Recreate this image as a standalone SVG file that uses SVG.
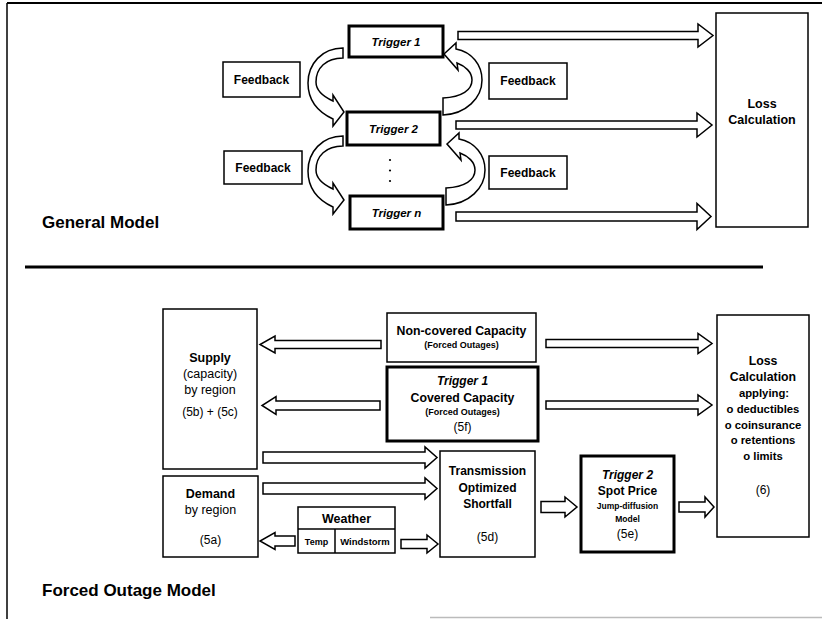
<svg xmlns="http://www.w3.org/2000/svg" width="822" height="619" viewBox="0 0 822 619">
<style>
.box{fill:#fff;stroke:#000;stroke-width:1.5}
.thick{fill:#fff;stroke:#000;stroke-width:3}
.arr{fill:#fff;stroke:#000;stroke-width:1.5;stroke-linejoin:miter}
.ln{stroke:#000;fill:none}
text{font-family:"Liberation Sans",Arial,sans-serif;text-anchor:middle;fill:#000}
.b{font-weight:bold}
.bi{font-weight:bold;font-style:italic}
.h{font-weight:bold;font-size:17px;text-anchor:start}
</style>
<defs>
<path id="cl" d="M343,48 C322,48 308,64 308,83 C308,100 318,112 333,119 L333,126 L344,112 L333,95 L333,101 C322,96 316,90 316,82 C316,68 326,58 343,58 Z"/>
<path id="cr" d="M456,49 C472,52 482,65 482,80 C482,98 466,114 443,115 L443,98 C462,97 472,90 472,80 C472,72 465,66 457,63 L458,70 L444,54 L456,43 Z"/>
</defs>
<rect width="822" height="619" fill="#fff"/>
<g id="frame">
<line class="ln" x1="7" y1="3" x2="822" y2="3" stroke-width="2"/>
<line class="ln" x1="7" y1="3" x2="7" y2="619" stroke-width="1.5"/>
<line class="ln" x1="25" y1="267" x2="763" y2="267" stroke-width="3"/>
<line x1="430" y1="617.5" x2="822" y2="617.5" stroke="#bbb" stroke-width="1.5"/>
</g>
<text class="h" x="42" y="228">General Model</text>
<text class="h" x="42" y="596">Forced Outage Model</text>

<g id="connectors">
<use href="#cl" class="arr"/>
<use href="#cl" class="arr" transform="translate(0,88)"/>
<use href="#cr" class="arr"/>
<use href="#cr" class="arr" transform="translate(3,90)"/>
<polygon class="arr" points="458,31.5 698,31.5 698,24 713,35.5 698,47 698,39.5 458,39.5"/>
<polygon class="arr" points="456,121 697,121 697,113 712,125 697,137 697,129 456,129"/>
<polygon class="arr" points="456,212 697,212 697,203.5 711,216.5 697,229.5 697,221 456,221"/>
<polygon class="arr" points="381,340.5 275,340.5 275,336 260,344.5 275,353 275,348.5 381,348.5"/>
<polygon class="arr" points="380,401 276,401 276,396.5 262,405.5 276,414.5 276,410 380,410"/>
<polygon class="arr" points="263,452 425,452 425,447 437,457.5 425,468 425,463 263,463"/>
<polygon class="arr" points="263,483 425,483 425,478 437,488.5 425,499 425,494 263,494"/>
<polygon class="arr" points="295,536 275,536 275,532.5 260,541 275,549.5 275,546 295,546"/>
<polygon class="arr" points="401,539.5 427,539.5 427,535 438,544 427,553 427,548.5 401,548.5"/>
<polygon class="arr" points="546,339.5 698,339.5 698,333.5 712,343.5 698,353.5 698,347.5 546,347.5"/>
<polygon class="arr" points="546,401 698,401 698,395 712,405 698,415 698,409 546,409"/>
<polygon class="arr" points="541,501.5 565,501.5 565,497 577,507 565,517 565,512.5 541,512.5"/>
<polygon class="arr" points="679,502 705,502 705,497 714,507 705,517 705,512 679,512"/>
</g>

<g id="trigger1-top"><rect class="thick" x="349" y="26" width="94" height="31"/><text class="bi" font-size="11.5" x="396" y="45.5">Trigger 1</text></g>
<g id="trigger2-top"><rect class="thick" x="347" y="112" width="93" height="33"/><text class="bi" font-size="11.5" x="393.5" y="132.5">Trigger 2</text></g>
<g id="dots"><circle cx="390" cy="160" r="1.1"/><circle cx="390" cy="170.5" r="1.1"/><circle cx="390" cy="181" r="1.1"/></g>
<g id="triggern-top"><rect class="thick" x="350" y="196" width="93" height="33"/><text class="bi" font-size="11.5" x="396.5" y="216.5">Trigger n</text></g>
<g id="feedback-l1"><rect class="box" x="223" y="62" width="77" height="35"/><text class="b" font-size="12" x="261.5" y="83.5">Feedback</text></g>
<g id="feedback-l2"><rect class="box" x="224" y="151" width="78" height="33"/><text class="b" font-size="12" x="263" y="171.5">Feedback</text></g>
<g id="feedback-r1"><rect class="box" x="489" y="63" width="78" height="36"/><text class="b" font-size="12" x="528" y="85">Feedback</text></g>
<g id="feedback-r2"><rect class="box" x="489" y="156" width="78" height="33"/><text class="b" font-size="12" x="528" y="176.5">Feedback</text></g>
<g id="loss-top"><rect class="box" x="716" y="13" width="92" height="214"/><text class="b" font-size="12.5" x="762" y="107.5">Loss</text><text class="b" font-size="12.5" x="762" y="123.5">Calculation</text></g>

<g id="supply"><rect class="box" x="163" y="309" width="94" height="160"/>
<text class="b" font-size="12.5" x="210" y="361.5">Supply</text>
<text font-size="12.5" x="210" y="377.5">(capacity)</text>
<text font-size="12.5" x="210" y="393.5">by region</text>
<text font-size="12" x="210" y="416">(5b) + (5c)</text></g>
<g id="demand"><rect class="box" x="163" y="476" width="95" height="81"/>
<text class="b" font-size="12.5" x="210.5" y="497.5">Demand</text>
<text font-size="12.5" x="210.5" y="513.5">by region</text>
<text font-size="12" x="210.5" y="544">(5a)</text></g>
<g id="weather"><rect class="box" x="298" y="507" width="97" height="46"/>
<line class="ln" x1="298" y1="529" x2="395" y2="529" stroke-width="1.5"/>
<line class="ln" x1="335" y1="529" x2="335" y2="553" stroke-width="1.5"/>
<text class="b" font-size="12.5" x="346.5" y="522.5">Weather</text>
<text class="b" font-size="9" x="316.5" y="544.5">Temp</text>
<text class="b" font-size="9.5" x="365" y="544.5">Windstorm</text></g>
<g id="noncovered"><rect class="box" x="387" y="313" width="149" height="49"/>
<text class="b" font-size="12.3" x="461.5" y="335">Non-covered Capacity</text>
<text class="b" font-size="9" x="461.5" y="347.5">(Forced Outages)</text></g>
<g id="covered"><rect class="thick" x="387" y="367" width="151" height="74"/>
<text class="bi" font-size="12" x="462.5" y="385">Trigger 1</text>
<text class="b" font-size="12.3" x="462.5" y="402">Covered Capacity</text>
<text class="b" font-size="9" x="462.5" y="415">(Forced Outages)</text>
<text font-size="12" x="462.5" y="431">(5f)</text></g>
<g id="transmission"><rect class="box" x="440" y="451" width="95" height="106"/>
<text class="b" font-size="12" x="487.5" y="475">Transmission</text>
<text class="b" font-size="12" x="487.5" y="492">Optimized</text>
<text class="b" font-size="12" x="487.5" y="508">Shortfall</text>
<text font-size="12" x="487.5" y="541">(5d)</text></g>
<g id="spotprice"><rect class="thick" x="581" y="456" width="93" height="96"/>
<text class="bi" font-size="12" x="627.5" y="479">Trigger 2</text>
<text class="b" font-size="12" x="627.5" y="495">Spot Price</text>
<text class="b" font-size="8.5" x="627.5" y="509">Jump-diffusion</text>
<text class="b" font-size="8.5" x="627.5" y="522">Model</text>
<text font-size="12" x="627.5" y="538">(5e)</text></g>
<g id="loss-bottom"><rect class="box" x="717" y="315" width="92" height="222"/>
<text class="b" font-size="12.3" x="763" y="365">Loss</text>
<text class="b" font-size="12.3" x="763" y="381">Calculation</text>
<text class="b" font-size="11.3" x="764" y="397">applying:</text>
<text class="b" font-size="11.3" x="763" y="413">o deductibles</text>
<text class="b" font-size="11.3" x="763" y="429">o coinsurance</text>
<text class="b" font-size="11.3" x="763" y="444">o retentions</text>
<text class="b" font-size="11.3" x="763" y="460">o limits</text>
<text font-size="12" x="763" y="494">(6)</text></g>
</svg>
